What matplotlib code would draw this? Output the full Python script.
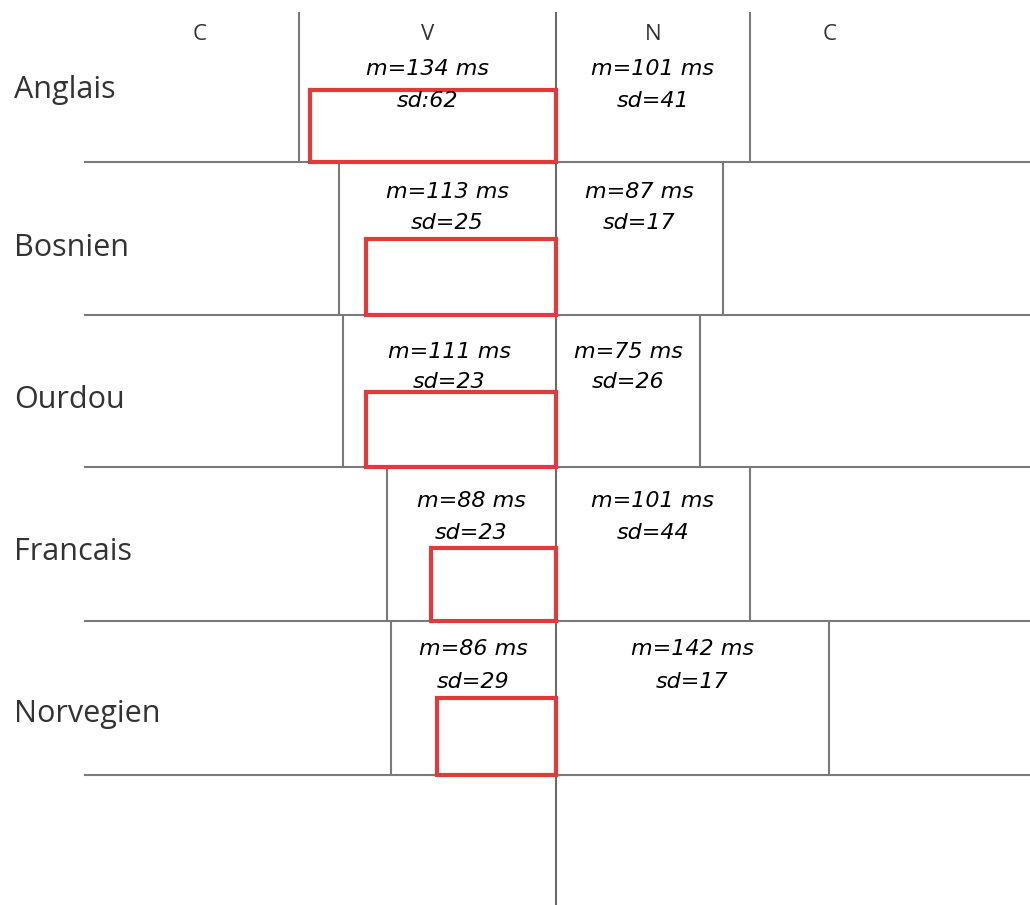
import matplotlib.pyplot as plt
from matplotlib.patches import Rectangle

# durees (ms) de la voyelle V et de la consonne nasale N
langues = ["Anglais", "Bosnien", "Ourdou", "Francais", "Norvegien"]
v_m = [134, 113, 111, 88, 86]
v_sd = [62, 25, 23, 23, 29]
v_sep = [":", "=", "=", "=", "="]
n_m = [101, 87, 75, 101, 142]
n_sd = [41, 17, 26, 44, 17]
red_ms = [128, 99, 99, 65, 62]  # portion encadree en rouge avant la frontiere V/N

# mise en page (pixels)
W, H = 1030, 905
X0 = 556      # frontiere V/N
PX = 1.92     # pixels par ms
row_edges = [12, 162, 315, 467, 621, 775]
label_base = [98, 256, 408, 560, 722]
m_base = [75, 198, 358, 507, 655]
sd_base = [107, 229, 388, 539, 688]
box_top = [90, 239, 392, 548, 698]

def ms(px):
    return (px - X0) / PX

fig = plt.figure(figsize=(W / 100, H / 100), dpi=100)
ax = fig.add_axes([0, 0, 1, 1])
ax.set_xlim(ms(0), ms(W))
ax.set_ylim(H, 0)
ax.axis("off")

grey = "#7a7a7a"
txt_col = "#333333"

# en-tetes
hdr = dict(fontsize=16, family="Open Sans", color=txt_col, ha="center", va="baseline")
ax.text(ms(200), 40, "C", **hdr)
ax.text(-v_m[0] / 2, 40, "V", **hdr)
ax.text(n_m[0] / 2, 40, "N", **hdr)
ax.text(ms(830), 40, "C", **hdr)

# ligne centrale
ax.plot([0, 0], [row_edges[0], H], color="#6a6a6a", lw=1.5, solid_capstyle="butt")

for i, lang in enumerate(langues):
    top, bot = row_edges[i], row_edges[i + 1]
    ax.plot([ms(85), ms(W)], [bot, bot], color=grey, lw=1.5)
    ax.plot([-v_m[i], -v_m[i]], [top, bot], color=grey, lw=1.5, solid_capstyle="butt")
    ax.plot([n_m[i], n_m[i]], [top, bot], color=grey, lw=1.5, solid_capstyle="butt")

    ax.add_patch(Rectangle((-red_ms[i], box_top[i]), red_ms[i], bot - box_top[i],
                           fill=False, edgecolor="#e03a3a", lw=3, zorder=3))

    ax.text(ms(14), label_base[i], lang, fontsize=22, family="Open Sans",
            color=txt_col, ha="left", va="baseline")

    vx = -v_m[i] / 2
    nx = n_m[i] / 2
    ax.text(vx, m_base[i], f"m={v_m[i]} ms", fontsize=16, style="italic",
            ha="center", va="baseline", zorder=4)
    ax.text(vx, sd_base[i], f"sd{v_sep[i]}{v_sd[i]}", fontsize=16, style="italic",
            ha="center", va="baseline", zorder=4)
    ax.text(nx, m_base[i], f"m={n_m[i]} ms", fontsize=16, style="italic",
            ha="center", va="baseline", zorder=4)
    ax.text(nx, sd_base[i], f"sd={n_sd[i]}", fontsize=16, style="italic",
            ha="center", va="baseline", zorder=4)

fig.savefig("out.png", dpi=100, facecolor="white")
